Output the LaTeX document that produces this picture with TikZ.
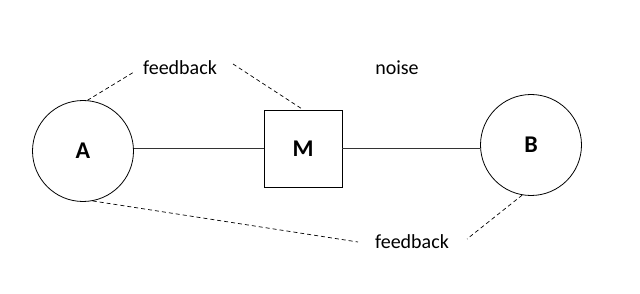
\documentclass[tikz,border=0pt]{standalone}
\usepackage{fontspec}
\setmainfont{Carlito}
\begin{document}
\begin{tikzpicture}[
	x=1pt, y=-1pt,
	party/.style={ circle, draw, line width=0.8pt, inner sep=0pt, minimum size=101pt, font=\fontsize{24}{28}\selectfont\bfseries },
	channel/.style={ rectangle, draw, line width=0.8pt, inner sep=0pt, minimum width=78pt, minimum height=77pt, font=\fontsize{24}{28}\selectfont\bfseries },
	tag/.style={ inner sep=0pt, font=\fontsize{20}{24}\selectfont },
	link/.style={ line width=0.7pt, black!80 },
	loop/.style={ line width=0.7pt, dash pattern=on 4pt off 3pt }
]
\useasboundingbox (0,0) rectangle (640,294);

\node at (83,151) (A) [party] {A};
\node at (303,148.5) (M) [channel] {M};
\node at (531,145) (B) [party] {B};
\draw [link] (A.east |- M) to (M.west);
\draw [link] (M.east) to (M.east -| B.west);

\node at (180,68) (fbtop) [tag] {feedback};
\node at (397,68) (noise) [tag] {noise};
\node at (412,242) (fbbot) [tag] {feedback};

\coordinate (fbtopL) at (134,72);
\coordinate (fbtopR) at (233,64);
\coordinate (fbbotL) at (358,242);
\coordinate (fbbotR) at (467,239);
\draw [loop] (A.85) to (fbtopL);
\draw [loop] (fbtopR) to (M.north);
\draw [loop] (A.-79) to (fbbotL);
\draw [loop] (B.-100) to (fbbotR);

\end{tikzpicture}
\end{document}
